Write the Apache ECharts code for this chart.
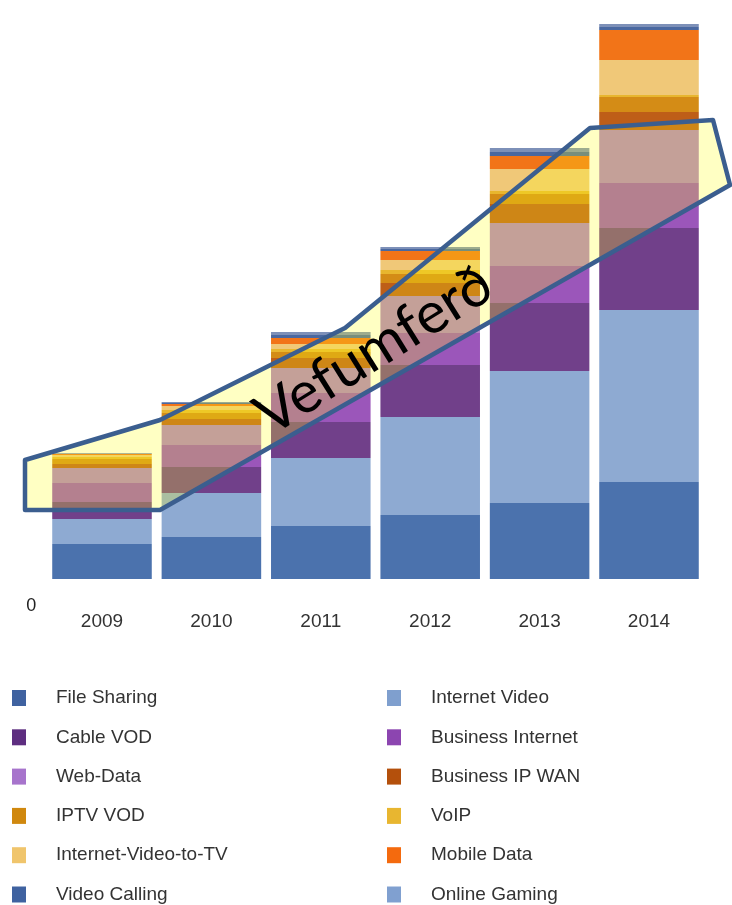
<!DOCTYPE html>
<html>
<head>
<meta charset="utf-8">
<script src="https://cdn.jsdelivr.net/npm/echarts@6/dist/echarts.min.js"></script>
<style>
html,body{margin:0;padding:0;background:#fff;}
#chart{width:732px;height:905px;}
</style>
</head>
<body>
<div id="chart"></div>
<script>
// ---- data (arbitrary units) ----
const categories = ['2009', '2010', '2011', '2012', '2013', '2014'];
const fileSharing        = [35, 42, 53, 64, 76, 97];
const internetVideo      = [25, 44, 68, 98, 132, 172];
const cableVOD           = [17, 26, 36, 52, 68, 82];
const businessInternet   = [19, 22, 29, 32, 37, 45];
const webData            = [15, 20, 25, 37, 43, 53];
const businessIPWAN      = [4, 6, 10, 13, 19, 18];
const iptvVOD            = [5, 6, 6, 9, 10, 15];
const voip               = [2, 3, 3, 4, 3, 2];
const internetVideoToTV  = [2, 4, 5, 10, 22, 35];
const mobileData         = [1, 2, 6, 9, 13, 30];
const videoCalling       = [0.5, 1, 3, 2, 4, 3];
const onlineGaming       = [0.5, 1, 3, 2, 4, 3];
const yTickLabels = ['0'];
const annotationText = 'Vefumferð';

// stack order bottom -> top
const seriesDefs = [
  ['File Sharing', fileSharing, '#4b72ad', '#3f62a0'],
  ['Internet Video', internetVideo, '#8eaad2', '#7f9fce'],
  ['Cable VOD', cableVOD, '#71408a', '#5e2e80'],
  ['Business Internet', businessInternet, '#9b56ba', '#8c45b0'],
  ['Web-Data', webData, '#b081c6', '#a774cc'],
  ['Business IP WAN', businessIPWAN, '#be5e18', '#b4500c'],
  ['IPTV VOD', iptvVOD, '#d48c16', '#d0880e'],
  ['VoIP', voip, '#e8b62e', '#e8b630'],
  ['Internet-Video-to-TV', internetVideoToTV, '#f0c878', '#f0c56c'],
  ['Mobile Data', mobileData, '#f27418', '#f46a0e'],
  ['Video Calling', videoCalling, '#4a68a0', '#3f62a0'],
  ['Online Gaming', onlineGaming, '#7d90b8', '#80a0d0']
];

const leftLegend = ['File Sharing', 'Cable VOD', 'Web-Data', 'IPTV VOD', 'Internet-Video-to-TV', 'Video Calling'];
const rightLegend = ['Internet Video', 'Business Internet', 'Business IP WAN', 'VoIP', 'Mobile Data', 'Online Gaming'];
const legendColor = {};
seriesDefs.forEach(d => { legendColor[d[0]] = d[3]; });

const series = seriesDefs.map(d => ({
  name: d[0],
  type: 'bar',
  stack: 'total',
  data: d[1],
  barCategoryGap: '9%',
  itemStyle: { color: d[2] },
  emphasis: { disabled: true },
  silent: true
}));

const legendBase = {
  orient: 'vertical',
  padding: 0,
  height: 240,
  itemWidth: 14,
  itemHeight: 16,
  itemGap: 19.3,
  icon: 'rect',
  selectedMode: false,
  textStyle: { fontFamily: '"Liberation Sans", Arial, sans-serif', fontSize: 19, color: '#333', lineHeight: 20, padding: [0, 0, 0, 25] }
};

const chart = echarts.init(document.getElementById('chart'), null, { renderer: 'canvas' });
chart.setOption({
  backgroundColor: '#ffffff',
  animation: false,
  grid: { left: 47.3, right: 28.3, top: 19, bottom: 326, containLabel: false, outerBoundsMode: 'none' },
  xAxis: {
    type: 'category',
    data: categories,
    axisLine: { show: false },
    axisTick: { show: false },
    axisLabel: { fontFamily: '"Liberation Sans", Arial, sans-serif', fontSize: 19, color: '#333', margin: 33 }
  },
  yAxis: {
    type: 'value',
    min: 0,
    max: 560,
    interval: 560,
    splitLine: { show: false },
    axisLine: { show: false },
    axisTick: { show: false },
    axisLabel: {
      fontFamily: '"Liberation Sans", Arial, sans-serif', fontSize: 18, color: '#222', margin: 11,
      verticalAlign: 'top', lineHeight: 54,
      formatter: v => (v === 0 ? yTickLabels[0] : '')
    }
  },
  legend: [
    Object.assign({}, legendBase, { left: 12, top: 688, data: leftLegend.map(n => ({ name: n, itemStyle: { color: legendColor[n] } })) }),
    Object.assign({}, legendBase, { left: 387, top: 688, data: rightLegend.map(n => ({ name: n, itemStyle: { color: legendColor[n] } })) })
  ],
  series: series,
  graphic: [
    {
      type: 'polygon',
      z: 100,
      silent: true,
      shape: { points: [[25, 460], [160, 420], [345, 328], [590, 128], [713, 120], [730, 185], [160, 510], [25, 510]] },
      style: { fill: 'rgba(255,255,16,0.25)', stroke: '#3b5e8f', lineWidth: 4.5, lineJoin: 'round' }
    },
    {
      type: 'text',
      z: 101,
      silent: true,
      x: 374,
      y: 350,
      rotation: 32 * Math.PI / 180,
      style: { text: annotationText, font: '58px Lato, "Open Sans", sans-serif', fill: '#000', align: 'center', verticalAlign: 'middle' }
    }
  ]
});
</script>
</body>
</html>
